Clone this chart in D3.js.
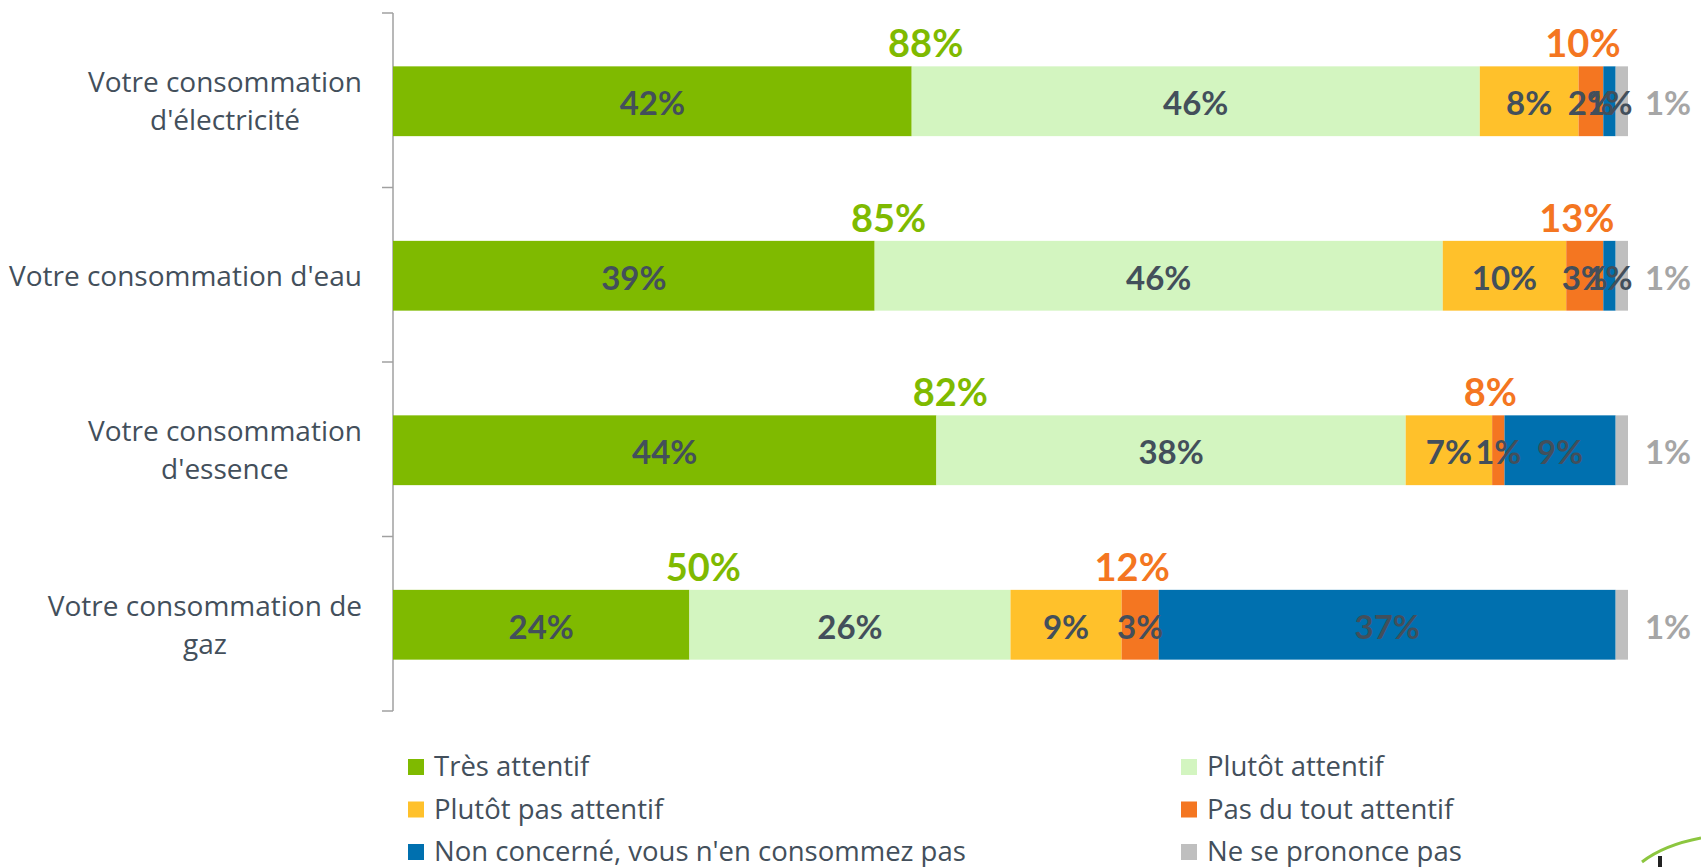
<!DOCTYPE html>
<html>
<head>
<meta charset="utf-8">
<script src="https://cdn.jsdelivr.net/npm/d3@7"></script>
<style>
  body { margin: 0; background: #fff; }
  svg { display: block; }
</style>
</head>
<body>
<svg id="chart" width="1701" height="867"></svg>
<script>
// categories, top to bottom
var categories = [
    ["Votre consommation", "d'électricité"],
    ["Votre consommation d'eau"],
    ["Votre consommation", "d'essence"],
    ["Votre consommation de", "gaz"]
];
var seriesNames = ["Très attentif", "Plutôt attentif", "Plutôt pas attentif",
                   "Pas du tout attentif", "Non concerné, vous n'en consommez pas", "Ne se prononce pas"];
var seriesColors = ["#7fba00", "#d3f5c0", "#ffc12b", "#f47621", "#0070af", "#bfbfbf"];

// one array per series, one value per category
var tresAttentif   = [42, 39, 44, 24];
var plutotAttentif = [46, 46, 38, 26];
var plutotPas      = [8, 10, 7, 9];
var pasDuTout      = [2, 3, 1, 3];
var nonConcerne    = [1, 1, 9, 37];
var nePrononce     = [1, 1, 1, 1];

// totals shown above the bars
var totalAttentif  = [88, 85, 82, 50];
var totalPas       = [10, 13, 8, 12];

var series = [tresAttentif, plutotAttentif, plutotPas, pasDuTout, nonConcerne, nePrononce];

var svg = d3.select("#chart");
var textColor = "#434f5b";

var x = d3.scaleLinear().domain([0, 100]).range([393, 1628]);
var y = d3.scaleBand().domain(d3.range(categories.length)).range([14, 712])
    .paddingInner(0.6).paddingOuter(0.3);

// rows of stacked data
var rows = categories.map(function (c, i) {
    var acc = 0;
    return series.map(function (s, k) {
        var seg = { cat: i, k: k, v: s[i], x0: acc, x1: acc + s[i] };
        acc += s[i];
        return seg;
    });
});

// vertical axis with ticks between categories
var step = y.step();
svg.append("line")
    .attr("x1", 393).attr("x2", 393)
    .attr("y1", y.range()[0] - 1).attr("y2", y.range()[1] - 1)
    .attr("stroke", "#a0a0a0").attr("stroke-width", 1.5);
svg.selectAll(".tick").data(d3.range(categories.length + 1)).join("line")
    .attr("class", "tick")
    .attr("x1", 382).attr("x2", 393)
    .attr("y1", function (i) { return y.range()[0] - 1 + i * step; })
    .attr("y2", function (i) { return y.range()[0] - 1 + i * step; })
    .attr("stroke", "#a0a0a0").attr("stroke-width", 1.5);

// bars
var gBars = svg.append("g");
rows.forEach(function (row) {
    gBars.selectAll(null).data(row).join("rect")
        .attr("x", function (d) { return x(d.x0); })
        .attr("width", function (d) { return x(d.x1) - x(d.x0); })
        .attr("y", function (d) { return y(d.cat); })
        .attr("height", y.bandwidth())
        .attr("fill", function (d) { return seriesColors[d.k]; });
});

// value labels: inside the segment, last one outside the bar
rows.forEach(function (row) {
    gBars.selectAll(null).data(row).join("text")
        .attr("x", function (d) { return d.k == 5 ? x(100) + 40 : x((d.x0 + d.x1) / 2); })
        .attr("y", function (d) { return y(d.cat) + y.bandwidth() / 2 + 2; })
        .attr("dy", "0.36em")
        .attr("text-anchor", "middle")
        .attr("font-family", "Lato, sans-serif")
        .attr("font-weight", "bold")
        .attr("font-size", 33)
        .attr("fill", function (d) { return d.k == 5 ? "#a6a6a6" : textColor; })
        .text(function (d) { return d.v + "%"; });
});

// totals above bars
svg.selectAll(".totA").data(totalAttentif).join("text")
    .attr("class", "totA")
    .attr("x", function (d, i) { return x(tresAttentif[i]) + 14; })
    .attr("y", function (d, i) { return y(i) - 9; })
    .attr("text-anchor", "middle")
    .attr("font-family", "Lato, sans-serif").attr("font-weight", "bold").attr("font-size", 38)
    .attr("fill", "#7fba00")
    .text(function (d) { return d + "%"; });
svg.selectAll(".totP").data(totalPas).join("text")
    .attr("class", "totP")
    .attr("x", function (d, i) { return x((rows[i][3].x0 + rows[i][3].x1) / 2) - 8; })
    .attr("y", function (d, i) { return y(i) - 9; })
    .attr("text-anchor", "middle")
    .attr("font-family", "Lato, sans-serif").attr("font-weight", "bold").attr("font-size", 38)
    .attr("fill", "#f47621")
    .text(function (d) { return d + "%"; });

// category labels: block right aligned, lines centred within block
var gCat = svg.append("g");
categories.forEach(function (lines, i) {
    var g = gCat.append("g");
    var cy = y(i) + y.bandwidth() / 2;
    var lh = 38;
    var t = g.selectAll("text").data(lines).join("text")
        .attr("y", function (d, j) { return cy + 10 + (j - (lines.length - 1) / 2) * lh; })
        .attr("text-anchor", "middle")
        .attr("font-family", "'Open Sans', sans-serif")
        .attr("font-size", 28)
        .attr("fill", textColor)
        .text(function (d) { return d; });
    var w = d3.max(t.nodes(), function (n) { return n.getComputedTextLength(); });
    t.attr("x", 362 - w / 2);
});

// legend, two columns
var legend = svg.append("g");
seriesNames.forEach(function (name, k) {
    var col = k % 2, row = Math.floor(k / 2);
    var lx = col == 0 ? 408 : 1181;
    var ly = 767 + row * 42.5;
    legend.append("rect")
        .attr("x", lx).attr("y", ly - 8).attr("width", 16).attr("height", 16)
        .attr("fill", seriesColors[k]);
    legend.append("text")
        .attr("x", lx + 26).attr("y", ly + 9)
        .attr("font-family", "'Open Sans', sans-serif")
        .attr("font-size", 27.5)
        .attr("fill", textColor)
        .text(name);
});

// corner logo fragment (cut off by the frame)
svg.append("rect").attr("x", 1658).attr("y", 856).attr("width", 4).attr("height", 11).attr("fill", "#222");
svg.append("path")
    .attr("d", "M1642,862 C1660,848 1680,842 1701,838")
    .attr("fill", "none").attr("stroke", "#8cc63f").attr("stroke-width", 3);
</script>
</body>
</html>
